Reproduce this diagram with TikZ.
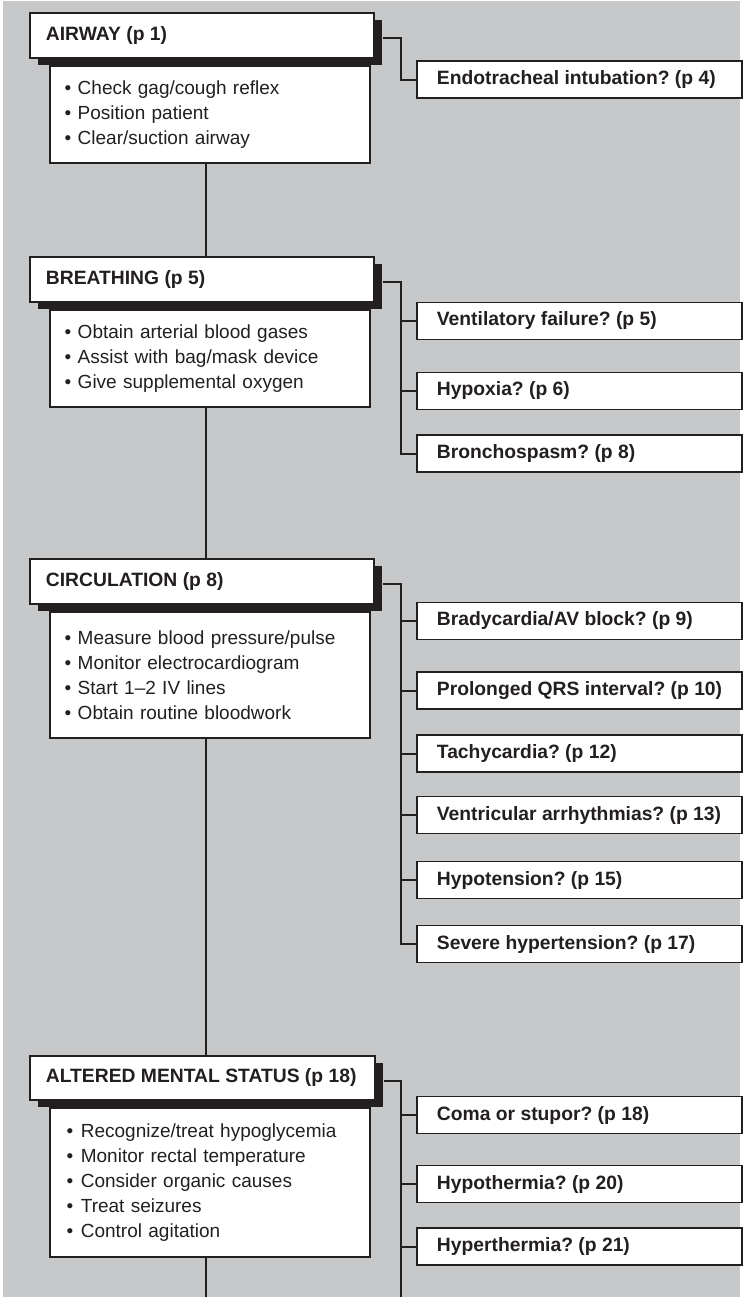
\documentclass[tikz,border=0pt]{standalone}
\usepackage{fontspec}
\setmainfont{Liberation Sans}
\usetikzlibrary{shadows}
\definecolor{bggray}{HTML}{C7C8CA}
\definecolor{ink}{HTML}{231F20}
\newcommand\hfnt{\fontsize{19.3pt}{25pt}\selectfont\bfseries\frenchspacing}
\newcommand\bfnt{\fontsize{19pt}{25pt}\selectfont\frenchspacing}
\newcommand\bitem[2][6.5pt]{\textbullet\hspace*{#1}#2}
\newcommand\oneline[2]{\makebox[#1][l]{#2}}
\begin{document}
\begin{tikzpicture}[x=1pt,y=-1pt,
  hdr/.style={draw=ink, line width=1.8pt, fill=white, anchor=north west,
    inner xsep=16pt, inner ysep=0pt, minimum height=45pt,
    font=\hfnt, text=ink,
    drop shadow={shadow xshift=8pt, shadow yshift=-7pt, fill=ink, opacity=1}},
  bbox/.style={draw=ink, line width=1.8pt, fill=white, anchor=north west,
    text width=290.6pt, inner xsep=14.7pt, inner ysep=0pt,
    align=left, font=\bfnt, text=ink},
  qbox/.style={draw=ink, line width=1.8pt, fill=white, anchor=west,
    inner xsep=20pt, inner ysep=0pt, minimum height=37pt,
    font=\hfnt, text=ink},
  link/.style={draw=ink, line width=2pt}]
\useasboundingbox (0,0) rectangle (744,1299);
\fill[white] (0,0) rectangle (744,1299);
\fill[bggray] (3,1) rectangle (740,1297);
\coordinate (spine) at (206,0);
\coordinate (bus) at (401,0);
\coordinate (bot) at (0,1297);

% AIRWAY
\node[hdr] (h1) at (29,12) {\oneline{312pt}{AIRWAY (p 1)}};
\node[bbox, minimum height=97pt] (b1) at (49,65)
  {\bitem{Check gag/cough reflex}\\\bitem{Position patient}\\\bitem{Clear/suction airway}};
\node[qbox] (q1) at (416,79.5) {\oneline{285pt}{Endotracheal intubation? (p 4)}};

% BREATHING
\node[hdr] (h2) at (29,256) {\oneline{312pt}{BREATHING (p 5)}};
\node[bbox, minimum height=97pt] (b2) at (49,309)
  {\bitem{Obtain arterial blood gases}\\\bitem{Assist with bag/mask device}\\\bitem{Give supplemental oxygen}};
\node[qbox] (q21) at (416,321) {\oneline{285pt}{Ventilatory failure? (p 5)}};
\node[qbox] (q22) at (416,391) {\oneline{285pt}{Hypoxia? (p 6)}};
\node[qbox] (q23) at (416,453.5) {\oneline{285pt}{Bronchospasm? (p 8)}};

% CIRCULATION
\node[hdr] (h3) at (29,558) {\oneline{312pt}{CIRCULATION (p 8)}};
\node[bbox, minimum height=126pt] (b3) at (49,611)
  {\bitem{Measure blood pressure/pulse}\\\bitem{Monitor electrocardiogram}\\\bitem{Start 1--2 IV lines}\\\bitem{Obtain routine bloodwork}};
\node[qbox] (q31) at (416,621) {\oneline{285pt}{Bradycardia/AV block? (p 9)}};
\node[qbox] (q32) at (416,690.5) {\oneline{285pt}{Prolonged QRS interval? (p 10)}};
\node[qbox] (q33) at (416,753.5) {\oneline{285pt}{Tachycardia? (p 12)}};
\node[qbox] (q34) at (416,815) {\oneline{285pt}{Ventricular arrhythmias? (p 13)}};
\node[qbox] (q35) at (416,880) {\oneline{285pt}{Hypotension? (p 15)}};
\node[qbox] (q36) at (416,944) {\oneline{285pt}{Severe hypertension? (p 17)}};

% ALTERED MENTAL STATUS
\node[hdr, minimum height=44pt] (h4) at (29,1055) {\oneline{313pt}{ALTERED MENTAL STATUS (p 18)}};
\node[bbox, minimum height=149pt, inner xsep=16.7pt, text width=286.6pt] (b4) at (49,1107)
  {\bitem[7.6pt]{Recognize/treat hypoglycemia}\\\bitem[7.6pt]{Monitor rectal temperature}\\\bitem[7.6pt]{Consider organic causes}\\\bitem[7.6pt]{Treat seizures}\\\bitem[7.6pt]{Control agitation}};
\node[qbox] (q41) at (416,1115) {\oneline{285pt}{Coma or stupor? (p 18)}};
\node[qbox] (q42) at (416,1184) {\oneline{285pt}{Hypothermia? (p 20)}};
\node[qbox] (q43) at (416,1246.5) {\oneline{285pt}{Hyperthermia? (p 21)}};

% spine
\draw[link] (b1.south -| spine) -- (h2.north -| spine);
\draw[link] (b2.south -| spine) -- (h3.north -| spine);
\draw[link] (b3.south -| spine) -- (h4.north -| spine);
\draw[link] (b4.south -| spine) -- (bot -| spine);

% branches
\draw[link] ([xshift=8pt,yshift=-3pt]h1.east) -| (q1.west -| bus) -- (q1.west);

\draw[link] ([xshift=8pt,yshift=-3pt]h2.east) -| (q23.west -| bus) -- (q23.west);
\draw[link] (q21.west -| bus) -- (q21.west);
\draw[link] (q22.west -| bus) -- (q22.west);

\draw[link] ([xshift=8pt,yshift=-3pt]h3.east) -| (q36.west -| bus) -- (q36.west);
\foreach \q in {q31,q32,q33,q34,q35}
  \draw[link] (\q.west -| bus) -- (\q.west);

\draw[link] ([xshift=8pt,yshift=-3pt]h4.east) -| (bot -| bus);
\foreach \q in {q41,q42,q43}
  \draw[link] (\q.west -| bus) -- (\q.west);
\end{tikzpicture}
\end{document}
